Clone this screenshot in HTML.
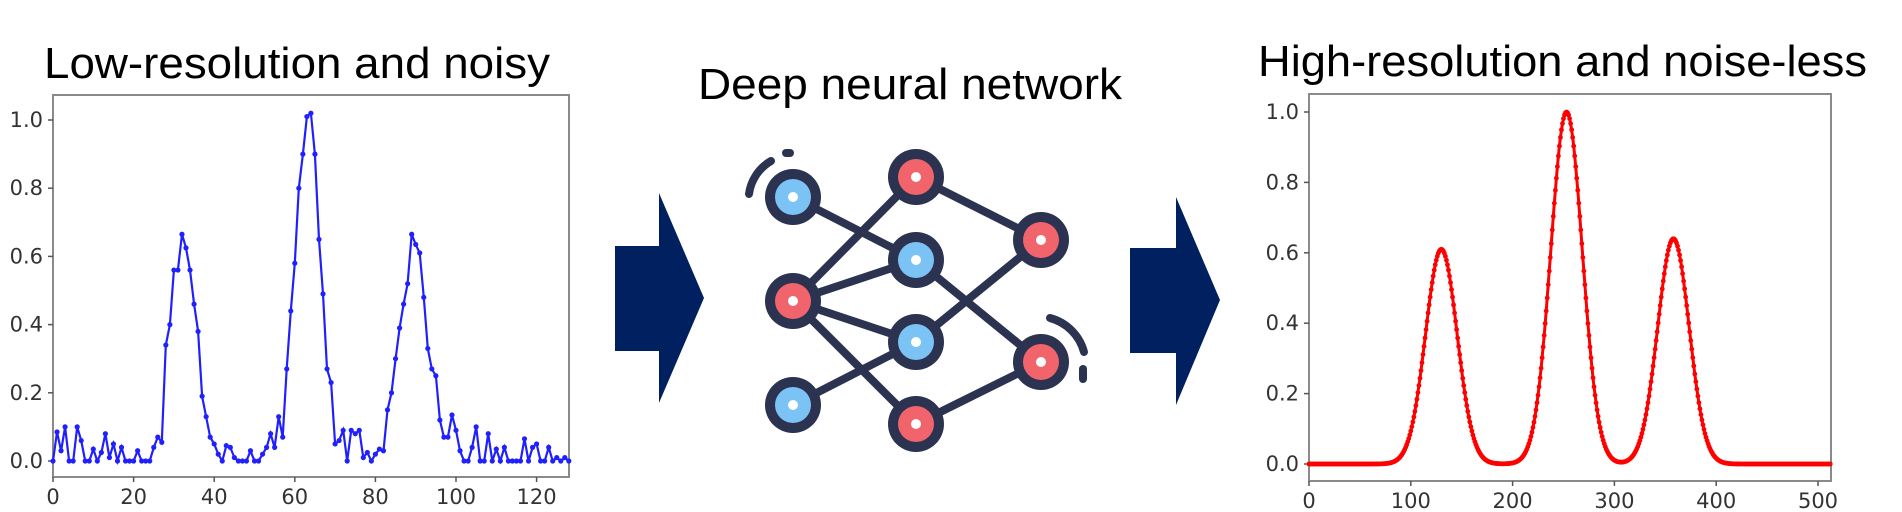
<!DOCTYPE html>
<html><head><meta charset="utf-8"><style>
html,body{margin:0;padding:0;background:#fff;}
svg{display:block;}
</style></head><body>
<svg id="s" width="1902" height="512" viewBox="0 0 1902 512" xmlns="http://www.w3.org/2000/svg">
<rect width="1902" height="512" fill="#fff"/>
<g font-family="Liberation Sans, sans-serif" fill="#000">
<text x="44" y="78" font-size="44" textLength="506" lengthAdjust="spacingAndGlyphs">Low-resolution and noisy</text>
<text x="698" y="99" font-size="44" textLength="424" lengthAdjust="spacingAndGlyphs">Deep neural network</text>
<text x="1258" y="76" font-size="44" textLength="609" lengthAdjust="spacingAndGlyphs">High-resolution and noise-less</text>
</g>
<!-- arrows -->
<polygon points="615,246 659,246 659,193 704,298 659,403 659,351 615,351" fill="#002060"/>
<polygon points="1130,248 1176,248 1176,197 1220,300 1176,405 1176,353 1130,353" fill="#002060"/>
<!-- network -->
<g stroke="#2b3350" stroke-width="8" stroke-linecap="round" fill="none">
<line x1="793" y1="197" x2="916" y2="260"/>
<line x1="916" y1="177" x2="1041" y2="240"/>
<line x1="793" y1="301" x2="916" y2="177"/>
<line x1="793" y1="301" x2="916" y2="260"/>
<line x1="793" y1="301" x2="916" y2="342"/>
<line x1="793" y1="301" x2="916" y2="424"/>
<line x1="916" y1="260" x2="1041" y2="362"/>
<line x1="916" y1="342" x2="1041" y2="240"/>
<line x1="793" y1="405" x2="916" y2="342"/>
<line x1="916" y1="424" x2="1041" y2="362"/>
<path d="M749,194 A45,45 0 0 1 771,161"/>
<line x1="786" y1="153" x2="790" y2="153"/>
<path d="M1050,318 A48,48 0 0 1 1084,352"/>
<line x1="1083" y1="369" x2="1083" y2="379"/>
</g>
<g id="nodes"></g>
<g id="left"></g>
<g id="right"></g>
</svg>
<script>
var NS="http://www.w3.org/2000/svg";
function el(p,t,a,txt){var e=document.createElementNS(NS,t);for(var k in a)e.setAttribute(k,a[k]);if(txt!==undefined)e.textContent=txt;p.appendChild(e);return e;}
var nodes=[[793,197,'b'],[916,177,'r'],[916,260,'b'],[1041,240,'r'],[793,301,'r'],[916,342,'b'],[1041,362,'r'],[793,405,'b'],[916,424,'r']];
var ng=document.getElementById('nodes');
nodes.forEach(function(n){el(ng,'circle',{cx:n[0],cy:n[1],r:28,fill:'#2b3350'});el(ng,'circle',{cx:n[0],cy:n[1],r:18,fill:n[2]=='b'?'#7cc3f5':'#f2646c'});el(ng,'circle',{cx:n[0],cy:n[1],r:5,fill:'#fff'});});

function axes(g,x0,x1,y0,y1,xt,yt,xmap,ymap){
 el(g,'rect',{x:x0,y:y0,width:x1-x0,height:y1-y0,fill:'none',stroke:'#8a8a8a','stroke-width':2});
 xt.forEach(function(v){var x=xmap(v);el(g,'line',{x1:x,y1:y1,x2:x,y2:y1+5,stroke:'#555','stroke-width':1.5});el(g,'text',{x:x,y:y1+27,'font-size':21,'text-anchor':'middle','font-family':'DejaVu Sans, sans-serif',fill:'#333'},String(v));});
 yt.forEach(function(v){var y=ymap(v);el(g,'line',{x1:x0-5,y1:y,x2:x0,y2:y,stroke:'#555','stroke-width':1.5});el(g,'text',{x:x0-10,y:y+7,'font-size':21,'text-anchor':'end','font-family':'DejaVu Sans, sans-serif',fill:'#333'},v.toFixed(1));});
}
// left
var L=document.getElementById('left');
var lx=function(v){return 53+v*4.03;}, ly=function(v){return 461-v*341;};
axes(L,53,569,95,477,[0,20,40,60,80,100,120],[0,0.2,0.4,0.6,0.8,1.0],lx,ly);
var d=[0,0.085,0.03,0.1,0,0,0.1,0.06,0,0,0.035,0,0.025,0.08,0.01,0.05,0,0.04,0,0,0,0.03,0,0,0,0.04,0.07,0.055,0.34,0.4,0.56,0.56,0.665,0.625,0.56,0.46,0.38,0.19,0.13,0.07,0.05,0.02,0,0.045,0.04,0.01,0,0,0,0.03,0,0,0.02,0.04,0.08,0.04,0.13,0.07,0.27,0.44,0.58,0.8,0.9,1.01,1.02,0.9,0.65,0.49,0.27,0.23,0.05,0.06,0.09,0,0.09,0.08,0.09,0.01,0.025,0,0.02,0.035,0.03,0.15,0.2,0.3,0.39,0.46,0.52,0.665,0.635,0.61,0.48,0.33,0.27,0.25,0.12,0.07,0.07,0.135,0.09,0.03,0,0,0.04,0.1,0,0,0.08,0,0.035,0,0.04,0,0,0,0,0.065,0,0.04,0.05,0,0,0.04,0,0.01,0,0.01,0];
var pts=d.map(function(v,i){return lx(i).toFixed(1)+','+ly(v).toFixed(1);}).join(' ');
el(L,'polyline',{points:pts,fill:'none',stroke:'#2020ff','stroke-width':2.2});
d.forEach(function(v,i){el(L,'circle',{cx:lx(i),cy:ly(v),r:2.6,fill:'#2020ff'});});
// right
var R=document.getElementById('right');
var rx=function(v){return 1309+v*1.018;}, ry=function(v){return 464-v*352;};
axes(R,1309,1831,94,481,[0,100,200,300,400,500],[0,0.2,0.4,0.6,0.8,1.0],rx,ry);
var rp=[];
for(var i=0;i<=512;i++){var s=15.5;var v=0.61*Math.exp(-Math.pow(i-130,2)/(2*s*s))+1.0*Math.exp(-Math.pow(i-253,2)/(2*s*s))+0.64*Math.exp(-Math.pow(i-358,2)/(2*s*s));rp.push([rx(i),ry(v)]);}
el(R,'polyline',{points:rp.map(function(p){return p[0].toFixed(1)+','+p[1].toFixed(1);}).join(' '),fill:'none',stroke:'#ff0000','stroke-width':3});
rp.forEach(function(p){el(R,'circle',{cx:p[0],cy:p[1],r:2.4,fill:'#ff0000'});});
</script>
</body></html>
